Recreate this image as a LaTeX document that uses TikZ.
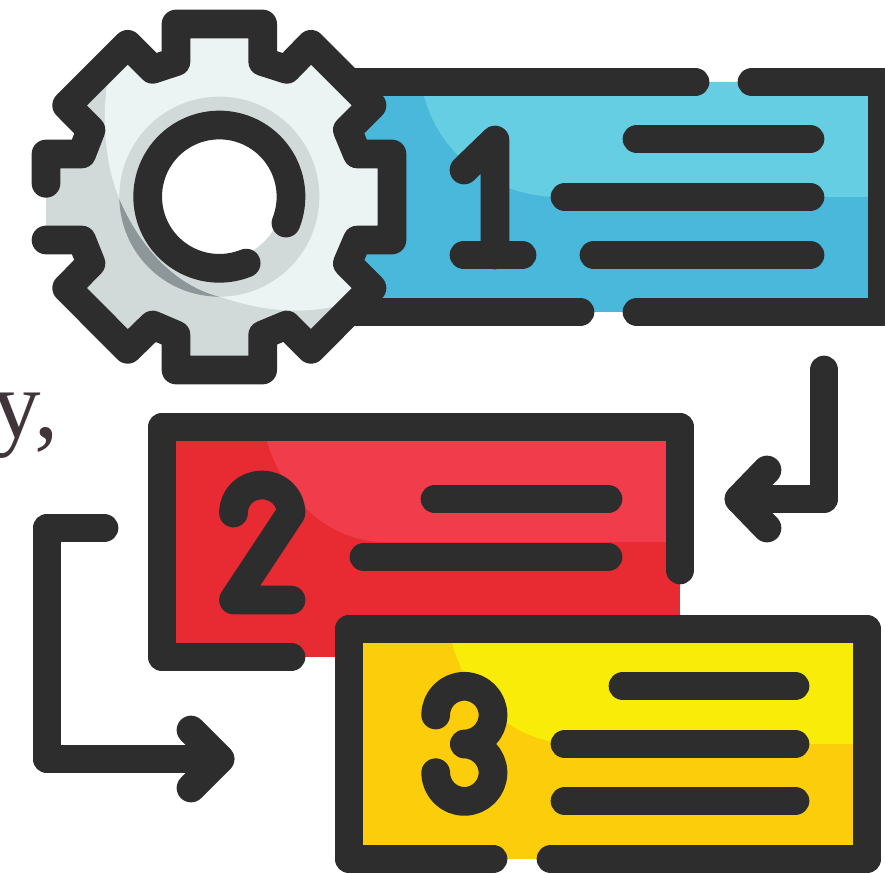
\documentclass[tikz,border=0pt]{standalone}
\usepackage{fontspec}
\setmainfont{Liberation Serif}
\definecolor{ink}{HTML}{2D2D2D}
\definecolor{gearlight}{HTML}{ECF4F3}
\definecolor{geardark}{HTML}{D2DAD9}
\definecolor{gearshade}{HTML}{8D9698}
\definecolor{bluebase}{HTML}{4AB8DB}
\definecolor{bluehi}{HTML}{66CEE3}
\definecolor{redbase}{HTML}{E82A32}
\definecolor{redhi}{HTML}{F13C4C}
\definecolor{yelbase}{HTML}{FBCD0A}
\definecolor{yelhi}{HTML}{F9EC08}
\definecolor{txtcol}{HTML}{40353A}
\tikzset{
  inkline/.style={draw=ink,line width=28.7pt,line cap=round,line join=round},
}
\newcommand{\gearfillpath}{(78,462) -- (185,462) -- (213,390) -- (140,316) -- (323,133) -- (398,208) -- (468,185) -- (468,72) -- (728,72) -- (728,185) -- (800,208) -- (873,133) -- (1056,316) -- (982,390) -- (1012,462) -- (1116,462) -- (1116,720) -- (1012,720) -- (982,790) -- (1056,864) -- (873,1048) -- (800,975) -- (728,1005) -- (728,1110) -- (468,1110) -- (468,1005) -- (398,975) -- (323,1048) -- (140,864) -- (213,790) -- (185,720) -- (78,720) -- cycle}
\newcommand{\gearhipath}{(270,200) .. controls (240,340) and (255,500) .. (300,600) .. controls (370,760) and (480,860) .. (600,890) .. controls (700,925) and (830,950) .. (960,915) -- (1200,900) -- (1200,0) -- (270,0) -- cycle}
\begin{document}
\begin{tikzpicture}[x=1pt,y=-1pt]
\useasboundingbox (0,0) rectangle (885,874);
\clip (0,0) rectangle (885,874);

% stray text
\node[anchor=base east,inner sep=0pt,text=txtcol,font=\fontsize{97}{97}\selectfont] (word) at (59,437) {y,};

% panel 1
\fill[bluebase] (345,82) rectangle (882,312);
\fill[bluehi] (421,82) .. controls (432,150) and (490,197) .. (560,197) -- (868,197) -- (868,82) -- cycle;
\draw[inkline] (695,82) -- (345,82);
\draw[inkline] (752,82) -- (882,82) -- (882,312) -- (637,312);
\draw[inkline] (580,312) -- (345,312);
\draw[inkline] (464,170) -- (495,140) -- (495,255);
\draw[inkline] (464,255) -- (522,255);
\draw[inkline] (637,139) -- (810,139);
\draw[inkline] (565,197) -- (810,197);
\draw[inkline] (594,255) -- (810,255);

% gear
\begin{scope}[shift={(20,0)},x=0.33333pt,y=-0.33333pt]
  \fill[geardark] \gearfillpath;
  \begin{scope}
    \clip \gearfillpath;
    \fill[gearshade] (598,590) circle[radius=300];
    \fill[gearlight] \gearhipath;
    \begin{scope}
      \clip \gearhipath;
      \fill[geardark] (598,590) circle[radius=300];
    \end{scope}
  \end{scope}
  \fill[white] (598,590) circle[radius=190];
  \draw[inkline] (78,550) -- (78,462) -- (185,462) -- (213,390) -- (140,316) -- (323,133) -- (398,208) -- (468,185) -- (468,72) -- (728,72) -- (728,185) -- (800,208) -- (873,133) -- (1056,316) -- (982,390) -- (1012,462) -- (1116,462) -- (1116,720) -- (1012,720) -- (982,790) -- (1056,864) -- (873,1048) -- (800,975) -- (728,1005) -- (728,1110) -- (468,1110) -- (468,1005) -- (398,975) -- (323,1048) -- (140,864) -- (213,790) -- (185,720) -- (78,720);
  \draw[inkline] plot[domain=21.6:-292,samples=90,smooth] ({598+215*cos(\x)},{590+215*sin(\x)});
\end{scope}

% panel 2
\fill[redbase] (162,427) rectangle (680,657);
\fill[redhi] (263,427) .. controls (280,500) and (330,542) .. (385,542) -- (666,542) -- (666,427) -- cycle;
\draw[inkline] (291,657) -- (162,657) -- (162,427) -- (680,427) -- (680,570);
\draw[inkline] (233.5,513) .. controls (233.5,497) and (246,485) .. (262,485) .. controls (278,485) and (291,497) .. (291,513) -- (233.5,600) -- (291,600);
\draw[inkline] (435,499) -- (608,499);
\draw[inkline] (364,557) -- (608,557);

% panel 3
\fill[yelbase] (349,629) rectangle (867,859);
\fill[yelhi] (452,643) .. controls (467,700) and (515,744) .. (575,744) -- (853,744) -- (853,643) -- cycle;
\draw[inkline] (493,859) -- (349,859) -- (349,629) -- (867,629) -- (867,859) -- (551,859);
\draw[inkline] (435.7,715) .. controls (435.7,699) and (448.5,686.3) .. (464.3,686.3) .. controls (480.1,686.3) and (493,699) .. (493,715) .. controls (493,731) and (480.1,744) .. (464.3,744) .. controls (480.1,744) and (493,757) .. (493,772.7) .. controls (493,788.5) and (480.1,801.4) .. (464.3,801.4) .. controls (448.5,801.4) and (435.7,788.5) .. (435.7,772.7);
\draw[inkline] (623,686) -- (795,686);
\draw[inkline] (565,744) -- (795,744);
\draw[inkline] (565,801) -- (795,801);

% arrows
\draw[inkline] (824,370) -- (824,499) -- (739,499);
\draw[inkline] (767,470) -- (739,499) -- (767,528);
\draw[inkline] (104,528) -- (47,528) -- (47,759) -- (220,759);
\draw[inkline] (191,730) -- (220,759) -- (191,788);
\end{tikzpicture}
\end{document}
